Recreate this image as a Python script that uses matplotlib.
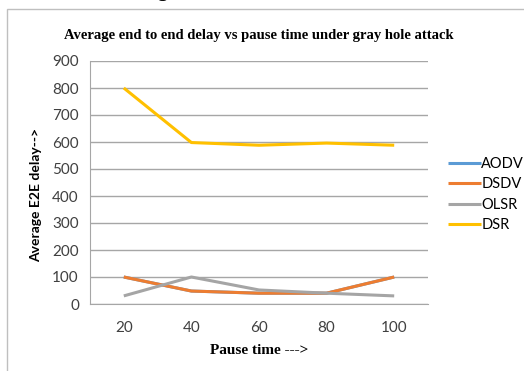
import matplotlib.pyplot as plt
from matplotlib.patches import Rectangle

pause_time = [20, 40, 60, 80, 100]
aodv = [100, 48, 40, 40, 100]
dsdv = [100, 48, 40, 40, 100]
olsr = [30, 100, 52, 40, 30]
dsr = [800, 598, 588, 596, 588]

series = [("AODV", aodv, "#5B9BD5"), ("DSDV", dsdv, "#ED7D31"),
          ("OLSR", olsr, "#A5A5A5"), ("DSR", dsr, "#FFC000")]

fig = plt.figure(figsize=(5.24, 3.71), dpi=100)
ax = fig.add_axes([90 / 524, 1 - 304 / 371, 338 / 524, 243 / 371])

# outer chart frame (cut off on the right/bottom like the screenshot)
fig.patches.append(Rectangle((7 / 524, -0.1), 1.2, 1 - 9 / 371 + 0.1, transform=fig.transFigure,
                             fill=False, edgecolor="#BFBFBF", linewidth=1.0))
# descender of a caption letter above the chart, only the tail shows
fig.text(162 / 524, 1.0 + 3 / 371, "g", ha="center", va="baseline", fontsize=14,
         family="Liberation Serif", fontweight="bold")

xs = range(len(pause_time))
for name, vals, color in series:
    ax.plot(xs, vals, color=color, linewidth=2.2, label=name, solid_capstyle="butt")

ax.set_xlim(-0.5, len(pause_time) - 0.5)
ax.set_ylim(0, 900)
ax.set_yticks(range(0, 901, 100))
ax.set_xticks(list(xs))
ax.set_xticklabels([str(p) for p in pause_time])
ax.grid(axis="y", color="#A6A6A6", linewidth=1.0)
ax.set_axisbelow(True)
for side in ("top", "right"):
    ax.spines[side].set_visible(False)
ax.spines["left"].set_color("#A6A6A6")
ax.spines["bottom"].set_color("#A6A6A6")
ax.tick_params(length=0, labelsize=11, labelcolor="#404040", pad=8)
ax.tick_params(axis="x", pad=12)
for lab in ax.get_xticklabels() + ax.get_yticklabels():
    lab.set_family("Lato")

ax.set_title("Average end to end delay vs pause time under gray hole attack",
             family="Liberation Serif", fontweight="bold", fontsize=10.5, pad=16)
ax.set_xlabel("Pause time --->", family="Liberation Serif", fontweight="bold", fontsize=11, labelpad=7)
ax.set_ylabel("Average E2E delay-->", family="Lato", fontweight="bold", fontsize=10)
ax.yaxis.set_label_coords(-0.143, 0.45)

leg = ax.legend(loc="center left", bbox_to_anchor=(1.02, 0.45), frameon=False,
                prop={"family": "Lato", "size": 10.5}, handlelength=2.3, handletextpad=0.0,
                labelspacing=0.45)

fig.savefig("out.png", dpi=100)
